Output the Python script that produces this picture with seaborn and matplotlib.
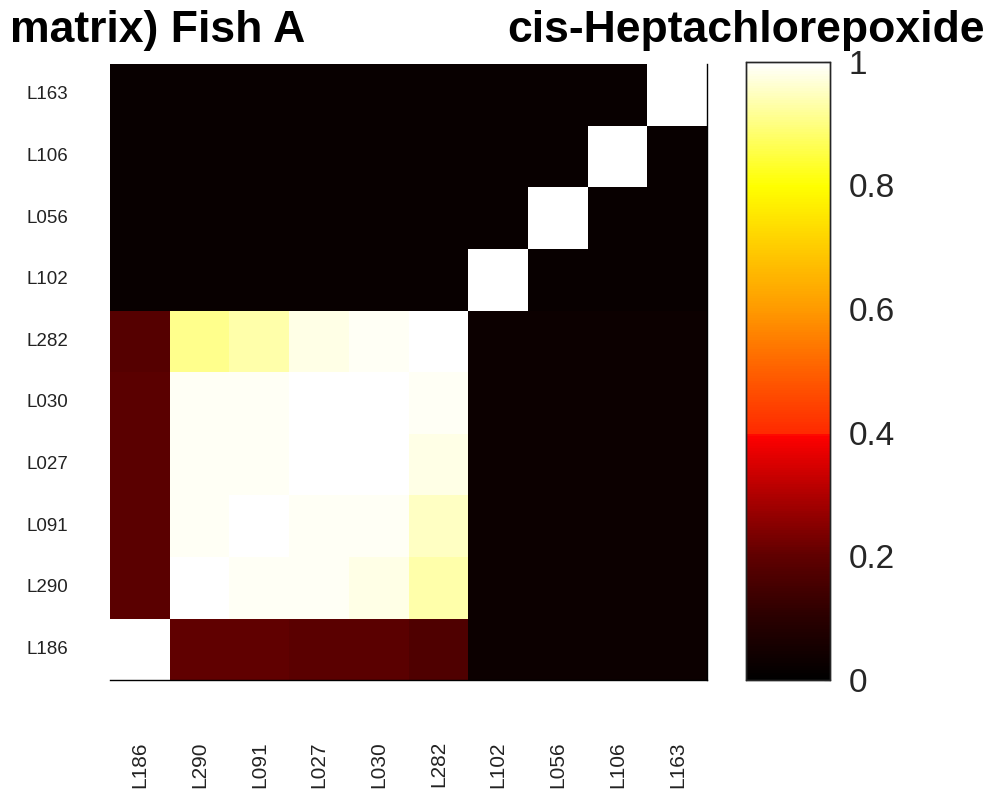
import numpy as np
import pandas as pd
import matplotlib
matplotlib.use('Agg')
import matplotlib.pyplot as plt
import seaborn as sns
from matplotlib.colors import LinearSegmentedColormap

# labels from bottom (row 0) to top, and left to right
labels = ['L186', 'L290', 'L091', 'L027', 'L030', 'L282', 'L102', 'L056', 'L106', 'L163']

# correlation matrix, row i = label i (bottom to top), column j = label j
row_L186 = [1.00, 0.20, 0.20, 0.19, 0.19, 0.17, 0.03, 0.03, 0.03, 0.03]
row_L290 = [0.19, 1.00, 0.99, 0.99, 0.98, 0.93, 0.03, 0.03, 0.03, 0.03]
row_L091 = [0.19, 0.99, 1.00, 0.99, 0.99, 0.95, 0.03, 0.03, 0.03, 0.03]
row_L027 = [0.19, 0.99, 0.99, 1.00, 1.00, 0.98, 0.03, 0.03, 0.03, 0.03]
row_L030 = [0.19, 0.99, 0.99, 1.00, 1.00, 0.99, 0.03, 0.03, 0.03, 0.03]
row_L282 = [0.18, 0.91, 0.93, 0.98, 0.99, 1.00, 0.03, 0.03, 0.03, 0.03]
row_L102 = [0.02, 0.02, 0.02, 0.02, 0.02, 0.02, 1.00, 0.02, 0.02, 0.02]
row_L056 = [0.02, 0.02, 0.02, 0.02, 0.02, 0.02, 0.02, 1.00, 0.02, 0.02]
row_L106 = [0.02, 0.02, 0.02, 0.02, 0.02, 0.02, 0.02, 0.02, 1.00, 0.02]
row_L163 = [0.02, 0.02, 0.02, 0.02, 0.02, 0.02, 0.02, 0.02, 0.02, 1.00]

mat = pd.DataFrame([row_L186, row_L290, row_L091, row_L027, row_L030,
                    row_L282, row_L102, row_L056, row_L106, row_L163],
                   index=labels, columns=labels)

# hot-like map with the step at 0.4 seen in the reference colour bar
cmap = LinearSegmentedColormap.from_list('hot_step', [
    (0.0, '#000000'), (0.1, '#2a0000'), (0.2, '#600000'), (0.3, '#b00000'),
    (0.395, '#ff0000'), (0.4, '#ff2a00'), (0.5, '#ff6000'), (0.6, '#ff9a00'),
    (0.7, '#ffcc00'), (0.8, '#ffff00'), (0.9, '#ffff80'), (1.0, '#ffffff')])

sns.set_style('white')
plt.rcParams['font.family'] = ['Liberation Sans', 'DejaVu Sans']

fig = plt.figure(figsize=(9.97, 8.02), dpi=100)
ax = fig.add_axes([0.1103, 0.152, 0.599, 0.768])
cax = fig.add_axes([0.748, 0.152, 0.084, 0.771])

sns.heatmap(mat, ax=ax, cbar_ax=cax, cmap=cmap, vmin=0, vmax=1,
            square=False, linewidths=0)
ax.invert_yaxis()

ax.tick_params(axis='x', length=0, pad=44, labelsize=15, labelrotation=90,
               labelcolor='#222222')
ax.tick_params(axis='y', length=0, pad=30, labelsize=13.5, labelrotation=0,
               labelcolor='#222222')
for lab in ax.get_xticklabels():
    lab.set_va('top')
ax.set_xlabel(''); ax.set_ylabel('')
for s in ['bottom', 'right']:
    ax.spines[s].set_visible(True)
    ax.spines[s].set_color('black')
    ax.spines[s].set_linewidth(1.0)

cax.set_yticks([0, 0.2, 0.4, 0.6, 0.8, 1.0])
cax.set_yticklabels(['0', '0.2', '0.4', '0.6', '0.8', '1'])
cax.tick_params(axis='y', direction='in', length=4, labelsize=24,
                labelcolor='#262626', pad=14)
for s in cax.spines.values():
    s.set_visible(True); s.set_color('#262626'); s.set_linewidth(1.0)

fig.text(0.01, 0.962, 'matrix) Fish A', fontsize=32, fontweight='bold',
         ha='left', va='center', color='black')
fig.text(0.988, 0.962, 'cis-Heptachlorepoxide', fontsize=32, fontweight='bold',
         ha='right', va='center', color='black')

fig.savefig('out.png', dpi=100)
